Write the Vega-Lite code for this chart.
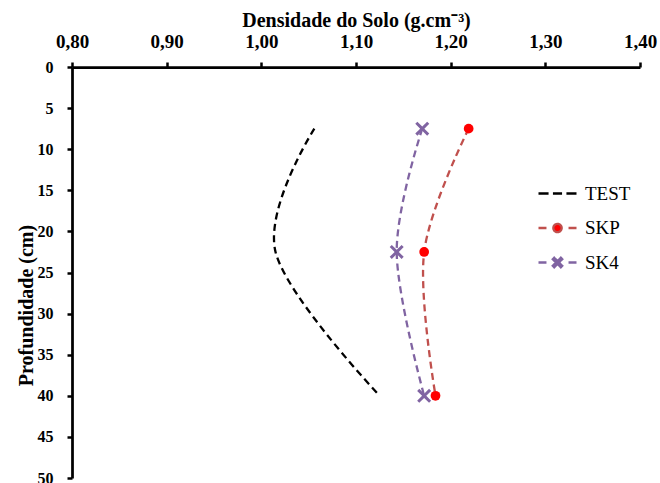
{
  "$schema": "https://vega.github.io/schema/vega-lite/v6.json",
  "width": 568,
  "height": 411,
  "autosize": {"type": "none"},
  "padding": {"left": 72, "top": 67, "right": 20, "bottom": 5},
  "background": "white",
  "config": {
    "view": {"stroke": null},
    "axis": {
      "grid": false,
      "domainColor": "black",
      "tickColor": "black",
      "labelColor": "black",
      "titleColor": "black",
      "labelFont": "Liberation Serif",
      "titleFont": "Liberation Serif",
      "labelFontWeight": "bold",
      "titleFontWeight": "bold"
    }
  },
  "data": {
    "values": [
      {"serie": "TEST", "profundidade": 7.5, "densidade": 1.056},
      {"serie": "TEST", "profundidade": 22.5, "densidade": 1.015},
      {"serie": "TEST", "profundidade": 40, "densidade": 1.125},
      {"serie": "SKP", "profundidade": 7.5, "densidade": 1.219},
      {"serie": "SKP", "profundidade": 22.5, "densidade": 1.172},
      {"serie": "SKP", "profundidade": 40, "densidade": 1.184},
      {"serie": "SK4", "profundidade": 7.5, "densidade": 1.170},
      {"serie": "SK4", "profundidade": 22.5, "densidade": 1.143},
      {"serie": "SK4", "profundidade": 40, "densidade": 1.172}
    ]
  },
  "encoding": {
    "x": {
      "field": "densidade",
      "type": "quantitative",
      "scale": {"domain": [0.8, 1.4], "nice": false, "zero": false},
      "axis": {
        "orient": "top",
        "values": [0.8, 0.9, 1.0, 1.1, 1.2, 1.3, 1.4],
        "labelExpr": "replace(format(datum.value, '.2f'), '.', ',')",
        "title": "Densidade do Solo (g.cm⁻³)",
        "labelFontSize": 19,
        "titleFontSize": 20,
        "tickSize": 5,
        "tickWidth": 2.5,
        "domainWidth": 2.75,
        "labelPadding": 15,
        "labelBaseline": "alphabetic",
        "titleBaseline": "alphabetic",
        "titleY": -40.5,
        "labelFlush": false,
        "labelOverlap": false
      }
    },
    "y": {
      "field": "profundidade",
      "type": "quantitative",
      "scale": {"domain": [0, 50], "reverse": true, "nice": false, "zero": false},
      "axis": {
        "values": [0, 5, 10, 15, 20, 25, 30, 35, 40, 45, 50],
        "title": "Profundidade (cm)",
        "labelFontSize": 16,
        "titleFontSize": 20,
        "tickSize": 5,
        "tickWidth": 2.5,
        "domainWidth": 2.75,
        "labelPadding": 14,
        "labelFlush": false,
        "labelOverlap": false,
        "titleAngle": 270,
        "titleBaseline": "alphabetic",
        "titleX": -40,
        "titleY": 238
      }
    }
  },
  "layer": [
    {
      "mark": {"type": "line", "interpolate": "cardinal", "strokeWidth": 2.3, "strokeDash": [7, 4.5]},
      "encoding": {
        "color": {
          "field": "serie",
          "type": "nominal",
          "scale": {"domain": ["TEST", "SKP", "SK4"], "range": ["#000000", "#C0504D", "#8064A2"]},
          "legend": {
            "orient": "none",
            "legendX": 465,
            "legendY": 106,
            "title": null,
            "padding": 0,
            "rowPadding": 3.5,
            "labelFont": "Liberation Serif",
            "labelFontSize": 19,
            "labelColor": "black",
            "labelOffset": 7,
            "symbolStrokeWidth": 2.3,
            "symbolDash": [1, 0],
            "symbolSize": 1444,
            "symbolOpacity": 1,
            "encode": {
              "symbols": {
                "update": {
                  "shape": {"signal": "datum.value === 'TEST' ? 'M-1,0H-0.47M-0.24,0H0.24M0.47,0H1' : datum.value === 'SKP' ? 'M-1,0H-0.58M0.58,0H1M0.22,0C0.22,0.1215,0.1215,0.22,0,0.22C-0.1215,0.22,-0.22,0.1215,-0.22,0C-0.22,-0.1215,-0.1215,-0.22,0,-0.22C0.1215,-0.22,0.22,-0.1215,0.22,0Z' : 'M-1,0H-0.58M0.58,0H1M-0.25,-0.175L-0.175,-0.25L0,-0.075L0.175,-0.25L0.25,-0.175L0.075,0L0.25,0.175L0.175,0.25L0,0.075L-0.175,0.25L-0.25,0.175L-0.075,0Z'"},
                  "fill": {"signal": "datum.value === 'TEST' ? 'transparent' : datum.value === 'SKP' ? '#FF0000' : '#8064A2'"}
                }
              }
            }
          }
        },
        "order": {"field": "profundidade", "type": "quantitative"}
      }
    },
    {
      "transform": [{"filter": "datum.serie === 'SKP'"}],
      "mark": {"type": "point", "shape": "circle", "filled": true, "color": "#FF0000", "opacity": 1, "size": 95}
    },
    {
      "transform": [{"filter": "datum.serie === 'SK4'"}],
      "mark": {"type": "point", "shape": "M-1,-0.7L-0.7,-1L0,-0.3L0.7,-1L1,-0.7L0.3,0L1,0.7L0.7,1L0,0.3L-0.7,1L-1,0.7L-0.3,0Z", "filled": true, "color": "#8064A2", "opacity": 1, "size": 196}
    }
  ]
}
